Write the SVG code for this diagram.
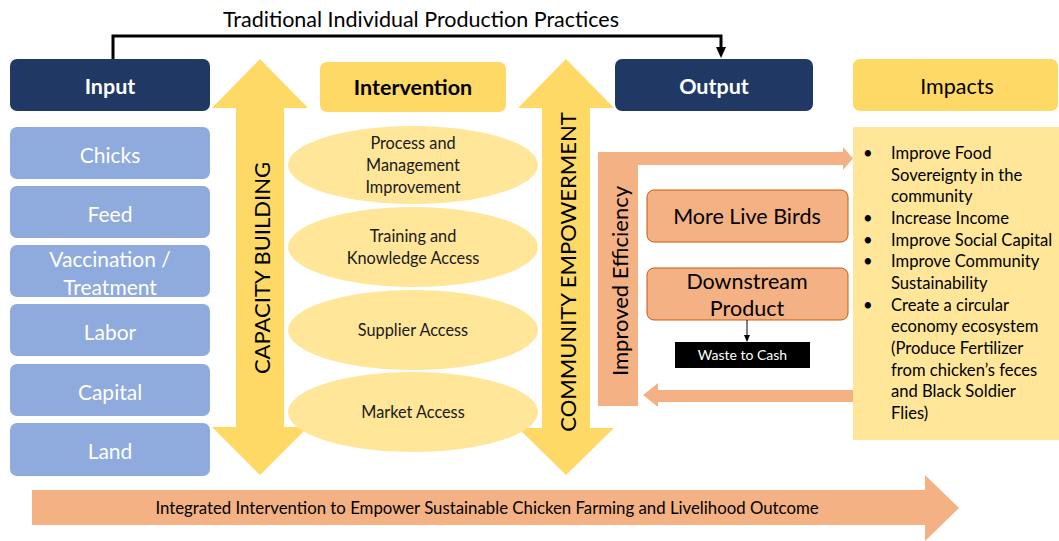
<svg xmlns="http://www.w3.org/2000/svg" width="1059" height="541" viewBox="0 0 1059 541">
  <defs>
    <style>
      text { font-family: Lato, "Open Sans", "Liberation Sans", sans-serif; }
      .navy { fill: #203864; }
      .head-w { fill: #ffffff; font-size: 21.5px; font-weight: bold; text-anchor: middle; dominant-baseline: central; }
      .head-b { fill: #000000; font-size: 21.5px; text-anchor: middle; dominant-baseline: central; }
      .inp { fill: #8FAADC; }
      .inp-t { fill: #ffffff; font-size: 21px; text-anchor: middle; dominant-baseline: central; }
      .yel { fill: #FFD966; }
      .lyel { fill: #FFE699; }
      .ell-t { fill: #1a1a1a; font-size: 16.3px; text-anchor: middle; }
      .big-v { fill: #000000; font-size: 22px; text-anchor: middle; dominant-baseline: central; }
      .org { fill: #F4B183; }
      .obox { fill: #F4B183; stroke: #C55A11; stroke-width: 1; }
      .obox-t { fill: #000000; font-size: 21.5px; text-anchor: middle; }
      .imp-t { fill: #000000; font-size: 16.6px; }
    </style>
    <marker id="arrBlack" markerWidth="10" markerHeight="10" refX="5" refY="10" orient="auto-start-reverse" markerUnits="userSpaceOnUse" viewBox="0 0 10 10">
      <path d="M0,0 L10,0 L5,10 Z" fill="#000"/>
    </marker>
    <marker id="arrSmall" markerWidth="6" markerHeight="7" refX="3" refY="7" markerUnits="userSpaceOnUse" viewBox="0 0 6 7">
      <path d="M0,0 L6,0 L3,7 Z" fill="#000"/>
    </marker>
  </defs>

  <!-- Bottom summary arrow -->
  <g id="summary-arrow">
    <polygon class="org" points="32,490 925,490 925,475 959,508 925,541 925,525 32,525"/>
    <text x="487" y="513.5" font-size="16.8" text-anchor="middle" fill="#000">Integrated Intervention to Empower Sustainable Chicken Farming and Livelihood Outcome</text>
  </g>

  <!-- Capacity building double arrow -->
  <g id="capacity-building">
    <polygon class="yel" points="260,59 308,108 284,108 284,427 308,427 260,475 212,427 236,427 236,108 212,108"/>
    <text class="big-v" transform="translate(261,268) rotate(-90)">CAPACITY BUILDING</text>
  </g>

  <!-- Community empowerment double arrow -->
  <g id="community-empowerment">
    <polygon class="yel" points="566,59 614,108 590,108 590,428 614,428 566,475 518,428 542,428 542,108 518,108"/>
  </g>

  <!-- Input column -->
  <g id="input-header">
    <rect class="navy" x="10" y="59" width="200" height="52" rx="7"/>
    <text class="head-w" x="110" y="86">Input</text>
  </g>
  <g id="input-chicks">
    <rect class="inp" x="10" y="127" width="200" height="52" rx="7"/>
    <text class="inp-t" x="110" y="154">Chicks</text>
  </g>
  <g id="input-feed">
    <rect class="inp" x="10" y="186" width="200" height="52" rx="7"/>
    <text class="inp-t" x="110" y="213">Feed</text>
  </g>
  <g id="input-vaccination">
    <rect class="inp" x="10" y="245" width="200" height="52" rx="7"/>
    <text class="inp-t" x="110" y="258">Vaccination /</text>
    <text class="inp-t" x="110" y="286">Treatment</text>
  </g>
  <g id="input-labor">
    <rect class="inp" x="10" y="304" width="200" height="52" rx="7"/>
    <text class="inp-t" x="110" y="331">Labor</text>
  </g>
  <g id="input-capital">
    <rect class="inp" x="10" y="364" width="200" height="52" rx="7"/>
    <text class="inp-t" x="110" y="391">Capital</text>
  </g>
  <g id="input-land">
    <rect class="inp" x="10" y="423" width="200" height="53" rx="7"/>
    <text class="inp-t" x="110" y="450">Land</text>
  </g>

  <!-- Intervention column -->
  <g id="intervention-header">
    <rect class="yel" x="320" y="62" width="186" height="50" rx="7"/>
    <text class="head-b" x="413" y="87" font-weight="bold">Intervention</text>
  </g>
  <g id="int-process">
    <ellipse class="lyel" cx="413" cy="165" rx="125" ry="39"/>
    <text class="ell-t" x="413" y="149">Process and</text>
    <text class="ell-t" x="413" y="171">Management</text>
    <text class="ell-t" x="413" y="193">Improvement</text>
  </g>
  <g id="int-training">
    <ellipse class="lyel" cx="413" cy="247" rx="125" ry="40"/>
    <text class="ell-t" x="413" y="242">Training and</text>
    <text class="ell-t" x="413" y="264">Knowledge Access</text>
  </g>
  <g id="int-supplier">
    <ellipse class="lyel" cx="413" cy="330" rx="125" ry="40"/>
    <text class="ell-t" x="413" y="336">Supplier Access</text>
  </g>
  <g id="int-market">
    <ellipse class="lyel" cx="413" cy="412" rx="125" ry="40"/>
    <text class="ell-t" x="413" y="418">Market Access</text>
  </g>

  <g id="community-empowerment-label">
    <text class="big-v" transform="translate(567,272) rotate(-90)">COMMUNITY EMPOWERMENT</text>
  </g>

  <!-- Output column -->
  <g id="output-header">
    <rect class="navy" x="615" y="59" width="198" height="52" rx="7"/>
    <text class="head-w" x="714" y="86">Output</text>
  </g>

  <g id="improved-efficiency">
    <polygon class="org" points="598,152 843,152 843,147 853,158.5 843,170 843,165 638,165 638,406 598,406"/>
    <text class="big-v" transform="translate(619,281) rotate(-90)">Improved Efficiency</text>
  </g>

  <g id="feedback-arrow">
    <polygon class="org" points="853,390 658,390 658,383 643,395 658,407 658,402 853,402"/>
  </g>

  <g id="out-live-birds">
    <rect class="obox" x="647" y="190" width="201" height="52" rx="7"/>
    <text class="obox-t" x="747" y="223.5">More Live Birds</text>
  </g>
  <g id="out-downstream">
    <rect class="obox" x="647" y="268" width="201" height="52" rx="7"/>
    <text class="obox-t" x="747" y="289">Downstream</text>
    <text class="obox-t" x="747" y="316">Product</text>
  </g>
  <g id="out-waste">
    <rect x="675" y="342" width="135" height="26" fill="#000"/>
    <text x="742.5" y="360" font-size="14" fill="#fff" text-anchor="middle">Waste to Cash</text>
  </g>

  <!-- Impacts column -->
  <g id="impacts-header">
    <rect class="yel" x="853" y="59" width="205" height="52" rx="7"/>
    <text class="head-b" x="957" y="86">Impacts</text>
  </g>
  <g id="impacts-list">
    <rect class="lyel" x="853" y="127" width="206" height="313"/>
    <g class="imp-t">
      <text x="863" y="159">•</text>
      <text x="891" y="159">Improve Food</text>
      <text x="891" y="181">Sovereignty in the</text>
      <text x="891" y="202">community</text>
      <text x="863" y="224">•</text>
      <text x="891" y="224">Increase Income</text>
      <text x="863" y="246">•</text>
      <text x="891" y="246">Improve Social Capital</text>
      <text x="863" y="267">•</text>
      <text x="891" y="267">Improve Community</text>
      <text x="891" y="289">Sustainability</text>
      <text x="863" y="311">•</text>
      <text x="891" y="311">Create a circular</text>
      <text x="891" y="332">economy ecosystem</text>
      <text x="891" y="354">(Produce Fertilizer</text>
      <text x="891" y="376">from chicken’s feces</text>
      <text x="891" y="397">and Black Soldier</text>
      <text x="891" y="419">Flies)</text>
    </g>
  </g>

  <!-- Connectors -->
  <g id="connectors">
    <polyline points="113,59 113,36 721,36 721,48" fill="none" stroke="#000" stroke-width="3"/>
    <path d="M716,47 L726,47 L721,58 Z" fill="#000"/>
    <line x1="747" y1="320" x2="747" y2="336" stroke="#000" stroke-width="1"/>
    <path d="M744,335 L750,335 L747,342 Z" fill="#000"/>
  </g>
  <text x="421" y="27" font-size="21.5" text-anchor="middle" fill="#000">Traditional Individual Production Practices</text>
</svg>
